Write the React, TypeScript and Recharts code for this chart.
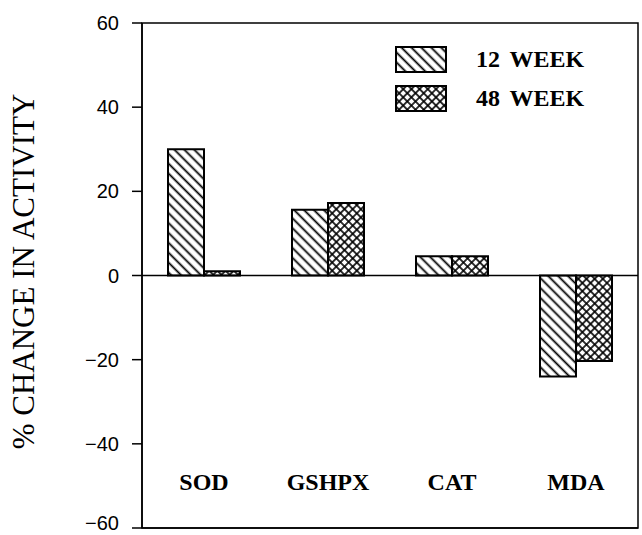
import {
  BarChart, Bar, XAxis, YAxis, ReferenceLine, ReferenceArea,
} from "recharts";

const categories = ["SOD", "GSHPX", "CAT", "MDA"];
const week12 = [30, 15.6, 4.6, -24];
const week48 = [1, 17.2, 4.6, -20.3];
const yTicks = [-60, -40, -20, 0, 20, 40, 60];
const seriesNames = ["12 WEEK", "48 WEEK"];

const data = categories.map((c, i) => ({ name: c, w12: week12[i], w48: week48[i] }));

const serif = "'Liberation Serif', 'Times New Roman', serif";
const sans = "'Liberation Sans', Arial, sans-serif";

function Patterns() {
  return (
    <defs>
      <pattern id="diag" patternUnits="userSpaceOnUse" width="7" height="7" patternTransform="rotate(45)">
        <rect width="7" height="7" fill="#fff" />
        <line x1="0" y1="3.5" x2="7" y2="3.5" stroke="#000" strokeWidth="1.8" />
      </pattern>
      <pattern id="cross" patternUnits="userSpaceOnUse" width="5.8" height="5.8" patternTransform="rotate(45)">
        <rect width="5.8" height="5.8" fill="#fff" />
        <line x1="0" y1="2.9" x2="5.8" y2="2.9" stroke="#000" strokeWidth="1.6" />
        <line x1="2.9" y1="0" x2="2.9" y2="5.8" stroke="#000" strokeWidth="1.6" />
      </pattern>
    </defs>
  );
}

// legend drawn outside the chart so it doesn't eat into the plot area
function LegendBox() {
  const fills = ["url(#diag)", "url(#cross)"];
  return (
    <div style={{ position: "absolute", left: 395, top: 40 }}>
      {seriesNames.map((n, i) => (
        <div key={n} style={{ display: "flex", alignItems: "center", height: 39 }}>
          <svg width={52} height={27} style={{ display: "block" }}>
            <rect x={1} y={1} width={50} height={25} fill={fills[i]} stroke="#000" strokeWidth={2} />
          </svg>
          <span style={{ fontFamily: serif, fontWeight: 700, fontSize: 24, marginLeft: 29, color: "#000", wordSpacing: 4 }}>
            {n}
          </span>
        </div>
      ))}
    </div>
  );
}

function CatTick(props: any) {
  const { x, y, payload } = props;
  return (
    <text x={x} y={y - 38} textAnchor="middle" fontFamily={serif} fontWeight={700} fontSize={24} fill="#000">
      {payload.value}
    </text>
  );
}

function ValTick(props: any) {
  const { x, y, payload } = props;
  const v = payload.value as number;
  // bottom label sits right on the page edge; nudge it up so it stays readable
  const shift = v === yTicks[0] ? -5 : 0;
  return (
    <text x={x} y={y + shift} dy={7} textAnchor="end" fontFamily={sans} fontSize={20} fill="#000">
      {String(v).replace("-", "\u2212")}
    </text>
  );
}

export default function App() {
  return (
    <div style={{ position: "absolute", left: 0, top: 0, width: 642, height: 535, background: "#fff" }}>
      <BarChart
        width={642}
        height={535}
        data={data}
        margin={{ top: 23, right: 4, bottom: 0, left: 0 }}
        barGap={0}
        barSize={36}
      >
        <Patterns />
        <XAxis
          dataKey="name"
          height={7}
          tickLine={false}
          tickSize={0}
          tickMargin={0}
          axisLine={{ stroke: "#000", strokeWidth: 1.5 }}
          tick={<CatTick />}
          interval={0}
        />
        <YAxis
          width={142}
          domain={[-60, 60]}
          ticks={yTicks}
          interval={0}
          tickSize={10}
          tickMargin={13}
          tickLine={{ stroke: "#000", strokeWidth: 1.5 }}
          axisLine={{ stroke: "#000", strokeWidth: 1.5 }}
          tick={<ValTick />}
          label={{
            value: "% CHANGE IN ACTIVITY",
            angle: -90,
            position: "insideLeft",
            dx: 18,
            dy: -4,
            style: { fontFamily: serif, fontSize: 31, fill: "#000", textAnchor: "middle" },
          }}
        />
        <ReferenceArea y1={-60} y2={60} fill="none" stroke="#000" strokeWidth={1.5} ifOverflow="visible" />
        <ReferenceLine y={0} stroke="#000" strokeWidth={1.3} />
        <Bar dataKey="w12" name={seriesNames[0]} fill="url(#diag)" stroke="#000" strokeWidth={2} isAnimationActive={false} />
        <Bar dataKey="w48" name={seriesNames[1]} fill="url(#cross)" stroke="#000" strokeWidth={2} isAnimationActive={false} />
      </BarChart>
      <LegendBox />
    </div>
  );
}
